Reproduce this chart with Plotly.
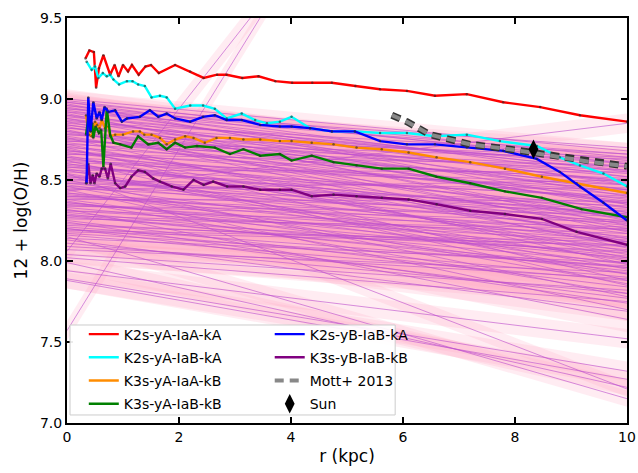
import plotly.graph_objects as go

# ---------------- data ----------------
red_x = [0.33, 0.40, 0.48, 0.52, 0.57, 0.65, 0.77, 0.85, 0.92, 1.00, 1.09, 1.16, 1.28, 1.40, 1.50, 1.64, 1.93, 2.20, 2.44, 2.68, 2.85, 3.13, 3.42, 3.72, 4.02, 4.38, 4.73, 5.15, 5.59, 6.07, 6.57, 7.14, 7.79, 8.45, 9.16, 10.0]
red_y = [9.25, 9.30, 9.29, 9.07, 9.19, 9.27, 9.15, 9.21, 9.14, 9.21, 9.17, 9.21, 9.15, 9.20, 9.21, 9.16, 9.21, 9.17, 9.13, 9.15, 9.15, 9.13, 9.14, 9.11, 9.10, 9.10, 9.10, 9.08, 9.06, 9.05, 9.02, 9.03, 8.98, 8.95, 8.90, 8.86]

cyan_x = [0.35, 0.44, 0.50, 0.56, 0.64, 0.71, 0.77, 0.83, 0.93, 1.07, 1.17, 1.27, 1.39, 1.51, 1.66, 1.78, 1.93, 2.20, 2.43, 2.64, 2.85, 3.12, 3.36, 3.57, 3.80, 4.01, 4.34, 4.73, 5.14, 5.59, 6.07, 6.57, 7.14, 7.73, 8.39, 8.80, 9.16, 9.58, 10.0]
cyan_y = [9.23, 9.18, 9.20, 9.13, 9.16, 9.14, 9.15, 9.12, 9.09, 9.11, 9.11, 9.09, 9.08, 9.01, 9.02, 9.01, 8.94, 8.96, 8.96, 8.94, 8.88, 8.91, 8.87, 8.85, 8.86, 8.89, 8.82, 8.80, 8.80, 8.79, 8.79, 8.77, 8.78, 8.74, 8.71, 8.64, 8.59, 8.54, 8.46]

orange_x = [0.34, 0.39, 0.44, 0.50, 0.54, 0.58, 0.62, 0.68, 0.74, 0.77, 0.86, 1.00, 1.18, 1.30, 1.38, 1.51, 1.66, 1.78, 1.93, 2.11, 2.26, 2.46, 2.67, 2.91, 3.15, 3.45, 3.80, 4.01, 4.37, 4.76, 5.17, 5.62, 6.10, 6.60, 7.20, 7.82, 8.48, 9.10, 10.0]
orange_y = [8.90, 8.78, 8.77, 8.86, 8.84, 8.82, 8.87, 8.82, 8.83, 8.77, 8.78, 8.78, 8.80, 8.80, 8.78, 8.78, 8.76, 8.72, 8.75, 8.77, 8.76, 8.73, 8.76, 8.76, 8.75, 8.75, 8.74, 8.74, 8.73, 8.72, 8.70, 8.69, 8.67, 8.64, 8.61, 8.57, 8.52, 8.48, 8.42]

green_x = [0.34, 0.38, 0.42, 0.45, 0.47, 0.51, 0.57, 0.61, 0.65, 0.71, 0.77, 0.83, 0.95, 1.15, 1.27, 1.45, 1.63, 1.78, 1.93, 2.11, 2.32, 2.64, 2.91, 3.15, 3.45, 3.80, 4.01, 4.37, 4.76, 5.17, 5.62, 6.10, 6.60, 7.20, 7.82, 8.48, 9.19, 10.0]
green_y = [8.78, 8.88, 8.80, 8.85, 8.76, 8.83, 8.79, 8.81, 8.58, 8.94, 8.78, 8.73, 8.72, 8.70, 8.77, 8.72, 8.73, 8.69, 8.73, 8.70, 8.71, 8.70, 8.66, 8.69, 8.65, 8.66, 8.62, 8.65, 8.61, 8.59, 8.57, 8.57, 8.52, 8.48, 8.43, 8.39, 8.32, 8.27]

blue_x = [0.35, 0.38, 0.42, 0.47, 0.53, 0.58, 0.62, 0.67, 0.74, 0.86, 0.98, 1.07, 1.30, 1.48, 1.63, 1.78, 1.93, 2.20, 2.43, 2.64, 2.85, 3.12, 3.45, 3.80, 4.01, 4.34, 4.73, 5.14, 5.59, 6.07, 6.57, 7.14, 7.79, 8.39, 8.80, 9.16, 9.58, 10.0]
blue_y = [8.48, 9.01, 8.80, 8.98, 8.88, 8.92, 8.87, 8.95, 8.92, 8.93, 8.86, 8.88, 8.89, 8.93, 8.89, 8.91, 8.88, 8.86, 8.89, 8.90, 8.87, 8.87, 8.84, 8.83, 8.83, 8.82, 8.80, 8.80, 8.74, 8.72, 8.72, 8.70, 8.68, 8.63, 8.55, 8.46, 8.36, 8.25]

purple_x = [0.34, 0.38, 0.42, 0.46, 0.49, 0.53, 0.58, 0.62, 0.68, 0.73, 0.78, 0.86, 0.95, 1.04, 1.15, 1.27, 1.39, 1.54, 1.66, 1.87, 2.08, 2.26, 2.44, 2.61, 2.86, 3.15, 3.45, 3.80, 4.01, 4.37, 4.76, 5.17, 5.62, 6.10, 6.60, 7.20, 7.82, 8.48, 9.10, 10.0]
purple_y = [8.48, 8.60, 8.48, 8.53, 8.48, 8.54, 8.52, 8.57, 8.57, 8.51, 8.60, 8.48, 8.45, 8.46, 8.52, 8.56, 8.55, 8.51, 8.49, 8.46, 8.44, 8.50, 8.47, 8.49, 8.46, 8.46, 8.44, 8.44, 8.44, 8.40, 8.41, 8.40, 8.39, 8.38, 8.35, 8.31, 8.29, 8.26, 8.18, 8.10]

mott_x = [5.80, 6.07, 6.48, 7.20, 7.91, 8.65, 9.37, 10.0]
mott_y = [8.90, 8.86, 8.78, 8.72, 8.69, 8.65, 8.61, 8.585]

sun_x = [8.33]
sun_y = [8.69]

# background gradients from the literature: value at r=0, value at r=10, uncertainty
bg_y0 = [9.00, 8.98, 8.96, 8.95, 8.93, 8.92, 8.90, 8.89, 8.88, 8.86, 8.85, 8.84, 8.82, 8.81, 8.80,
         8.78, 8.77, 8.76, 8.75, 8.73, 8.72, 8.71, 8.70, 8.68, 8.67, 8.66, 8.65, 8.63, 8.62, 8.61,
         8.60, 8.58, 8.57, 8.55, 8.54, 8.53, 8.52, 8.50, 8.49, 8.47, 8.45, 8.44, 8.43, 8.42, 8.40,
         8.38, 8.36, 8.34, 8.32, 8.30, 8.28, 8.25, 8.22, 8.20, 8.17, 8.15, 8.13, 8.09, 8.06, 8.04,
         7.99, 7.94, 7.89, 7.88, 7.57,
         8.99, 8.97, 8.94, 8.91, 8.87, 8.83, 8.79, 8.74, 8.69, 8.64, 8.59, 8.56, 8.51, 8.48, 8.46,
         8.41, 8.39, 8.37, 8.35, 8.33, 8.31, 8.29, 8.27, 8.24, 8.21, 8.19, 8.16, 8.11, 8.07, 8.02,
         8.98, 8.96, 8.94, 8.92, 8.90, 8.88, 8.86, 8.84, 8.82, 8.80, 8.78, 8.76, 8.74, 8.72, 8.70,
         8.68, 8.66, 8.64, 8.62, 8.60, 8.58, 8.56, 8.54, 8.52, 8.50, 8.48, 8.46, 8.44, 8.42, 8.40,
         8.38, 8.36, 8.34, 8.31, 8.28, 8.26, 8.23, 8.20, 8.18, 8.14]
bg_y10 = [8.68, 8.52, 8.62, 8.40, 8.48, 8.66, 8.30, 8.58, 8.44, 8.18, 8.60, 8.35, 8.52, 8.08, 8.44,
          8.64, 8.26, 7.98, 8.47, 8.37, 8.56, 8.14, 7.88, 8.41, 8.24, 8.51, 8.04, 8.33, 7.85, 8.45,
          8.17, 8.29, 7.95, 8.40, 7.21, 8.11, 8.22, 7.78, 8.34, 8.01, 8.27, 7.70, 8.85, 8.14, 8.31,
          7.92, 8.07, 8.24, 7.64, 7.99, 8.17, 7.84, 8.09, 7.77, 7.97, 7.15, 7.69, 7.89, 12.46, 7.82,
          7.22, 7.52, 7.32, 7.27, 13.17,
          8.60, 8.35, 8.55, 8.22, 8.49, 8.12, 8.38, 8.58, 8.02, 8.43, 8.28, 7.92, 8.19, 8.36, 7.86,
          8.09, 8.25, 7.80, 8.13, 8.02, 8.21, 7.94, 8.05, 7.74, 7.96, 8.12, 7.88, 7.80, 7.93, 7.75,
          8.64, 8.47, 8.70, 8.33, 8.56, 8.25, 8.66, 8.42, 8.61, 8.20, 8.54, 8.36, 8.63, 8.10, 8.50,
          8.30, 8.59, 8.06, 8.47, 8.23, 8.39, 8.55, 8.00, 8.28, 8.44, 8.15, 8.32, 8.50, 7.98, 8.19,
          8.37, 8.03, 8.29, 8.12, 7.96, 8.20, 8.06, 7.90, 8.10, 7.99]
bg_err = [0.05, 0.08, 0.06, 0.09, 0.05, 0.04, 0.08, 0.06, 0.05, 0.08, 0.05, 0.07, 0.04, 0.09, 0.06,
          0.05, 0.07, 0.07, 0.05, 0.06, 0.04, 0.07, 0.08, 0.05, 0.06, 0.05, 0.07, 0.06, 0.08, 0.05,
          0.06, 0.06, 0.07, 0.05, 0.05, 0.06, 0.06, 0.08, 0.05, 0.07, 0.06, 0.07, 0.06, 0.06, 0.05,
          0.07, 0.06, 0.05, 0.08, 0.06, 0.06, 0.07, 0.05, 0.07, 0.06, 0.05, 0.06, 0.05, 0.07, 0.06,
          0.05, 0.06, 0.06, 0.05, 0.06,
          0.04, 0.03, 0.04, 0.03, 0.04, 0.03, 0.04, 0.03, 0.04, 0.03, 0.04, 0.03, 0.04, 0.03, 0.04,
          0.03, 0.04, 0.03, 0.04, 0.03, 0.04, 0.03, 0.04, 0.03, 0.04, 0.03, 0.04, 0.03, 0.04, 0.03,
          0.03, 0.04, 0.03, 0.04, 0.03, 0.04, 0.03, 0.04, 0.03, 0.04, 0.03, 0.04, 0.03, 0.04, 0.03,
          0.04, 0.03, 0.04, 0.03, 0.04, 0.03, 0.04, 0.03, 0.04, 0.03, 0.04, 0.03, 0.04, 0.03, 0.04,
          0.03, 0.04, 0.03, 0.04, 0.03, 0.04, 0.03, 0.04, 0.03, 0.04]
bg_r = [0.0, 10.0]

x_ticks = [0, 2, 4, 6, 8, 10]
y_ticks = [7.0, 7.5, 8.0, 8.5, 9.0, 9.5]

# ---------------- figure ----------------
fig = go.Figure()

band_color = "rgba(255,170,195,0.22)"
bgline_color = "rgba(190,80,205,0.7)"

for y0, y1, e in zip(bg_y0, bg_y10, bg_err):
    fig.add_trace(go.Scatter(
        x=[bg_r[0], bg_r[1], bg_r[1], bg_r[0]],
        y=[y0 - e, y1 - e, y1 + e, y0 + e],
        fill="toself", fillcolor=band_color, mode="lines",
        line=dict(width=0), showlegend=False, hoverinfo="skip"))
for y0, y1 in zip(bg_y0, bg_y10):
    fig.add_trace(go.Scatter(
        x=bg_r, y=[y0, y1], mode="lines",
        line=dict(color=bgline_color, width=0.9),
        showlegend=False, hoverinfo="skip"))

series = [
    ("K2s-yA-IaA-kA", red_x, red_y, "#ff0000", "legend", 1),
    ("K2s-yA-IaB-kA", cyan_x, cyan_y, "#00ffff", "legend", 2),
    ("K3s-yA-IaA-kB", orange_x, orange_y, "#ff8c00", "legend", 3),
    ("K3s-yA-IaB-kB", green_x, green_y, "#008000", "legend", 4),
    ("K3s-yB-IaB-kB", purple_x, purple_y, "#800080", "legend2", 2),
    ("K2s-yB-IaB-kA", blue_x, blue_y, "#0000ff", "legend2", 1),
]
for name, xs, ys, col, leg, rank in series:
    fig.add_trace(go.Scatter(x=xs, y=ys, mode="lines", name=name,
                             line=dict(color=col, width=2.4),
                             legend=leg, legendrank=rank, legendgroup=name))
    fig.add_trace(go.Scatter(x=xs, y=ys, mode="markers", showlegend=False,
                             marker=dict(size=2.5, color="rgba(40,40,40,0.6)"),
                             hoverinfo="skip"))

fig.add_trace(go.Scatter(x=mott_x, y=mott_y, mode="lines", showlegend=False,
                         line=dict(color="#333333", width=7, dash="9px,6px"),
                         hoverinfo="skip"))
fig.add_trace(go.Scatter(x=mott_x, y=mott_y, mode="lines", name="Mott+ 2013",
                         line=dict(color="#888888", width=4, dash="9px,6px"),
                         legend="legend2", legendrank=3, legendgroup="mott"))
fig.add_trace(go.Scatter(x=sun_x, y=sun_y, mode="markers", name="Sun",
                         marker=dict(symbol="diamond-tall", size=14, color="black"),
                         legend="legend2", legendrank=4, legendgroup="sun"))

axis_common = dict(showline=True, linewidth=2, linecolor="black", mirror="allticks",
                   ticks="inside", ticklen=6, tickwidth=1.5, tickcolor="black",
                   showgrid=False, zeroline=False, automargin=False)

fig.update_layout(
    width=638, height=473,
    margin=dict(l=67, r=11, t=18, b=50),
    plot_bgcolor="white", paper_bgcolor="white",
    font=dict(family="DejaVu Sans", size=14, color="black"),
    xaxis=dict(range=[0, 10], tickvals=x_ticks, title=dict(text="r (kpc)", standoff=6), **axis_common),
    yaxis=dict(range=[7, 9.5], tickvals=y_ticks, tickformat=".1f",
               title=dict(text="12 + log(O/H)", standoff=8), **axis_common),
    legend=dict(x=0.03, y=0.258, xanchor="left", yanchor="top", bgcolor="rgba(0,0,0,0)",
                borderwidth=0, font=dict(size=14), traceorder="grouped", tracegroupgap=2),
    legend2=dict(x=0.362, y=0.258, xanchor="left", yanchor="top", bgcolor="rgba(0,0,0,0)",
                 borderwidth=0, font=dict(size=14), traceorder="grouped", tracegroupgap=2),
    shapes=[dict(type="rect", xref="paper", yref="paper", x0=0.0054, x1=0.586, y0=0.0198, y1=0.242,
                 fillcolor="rgba(255,255,255,0.92)", line=dict(color="#cccccc", width=1), layer="above")],
    showlegend=True,
)

fig.write_html("out.html")
